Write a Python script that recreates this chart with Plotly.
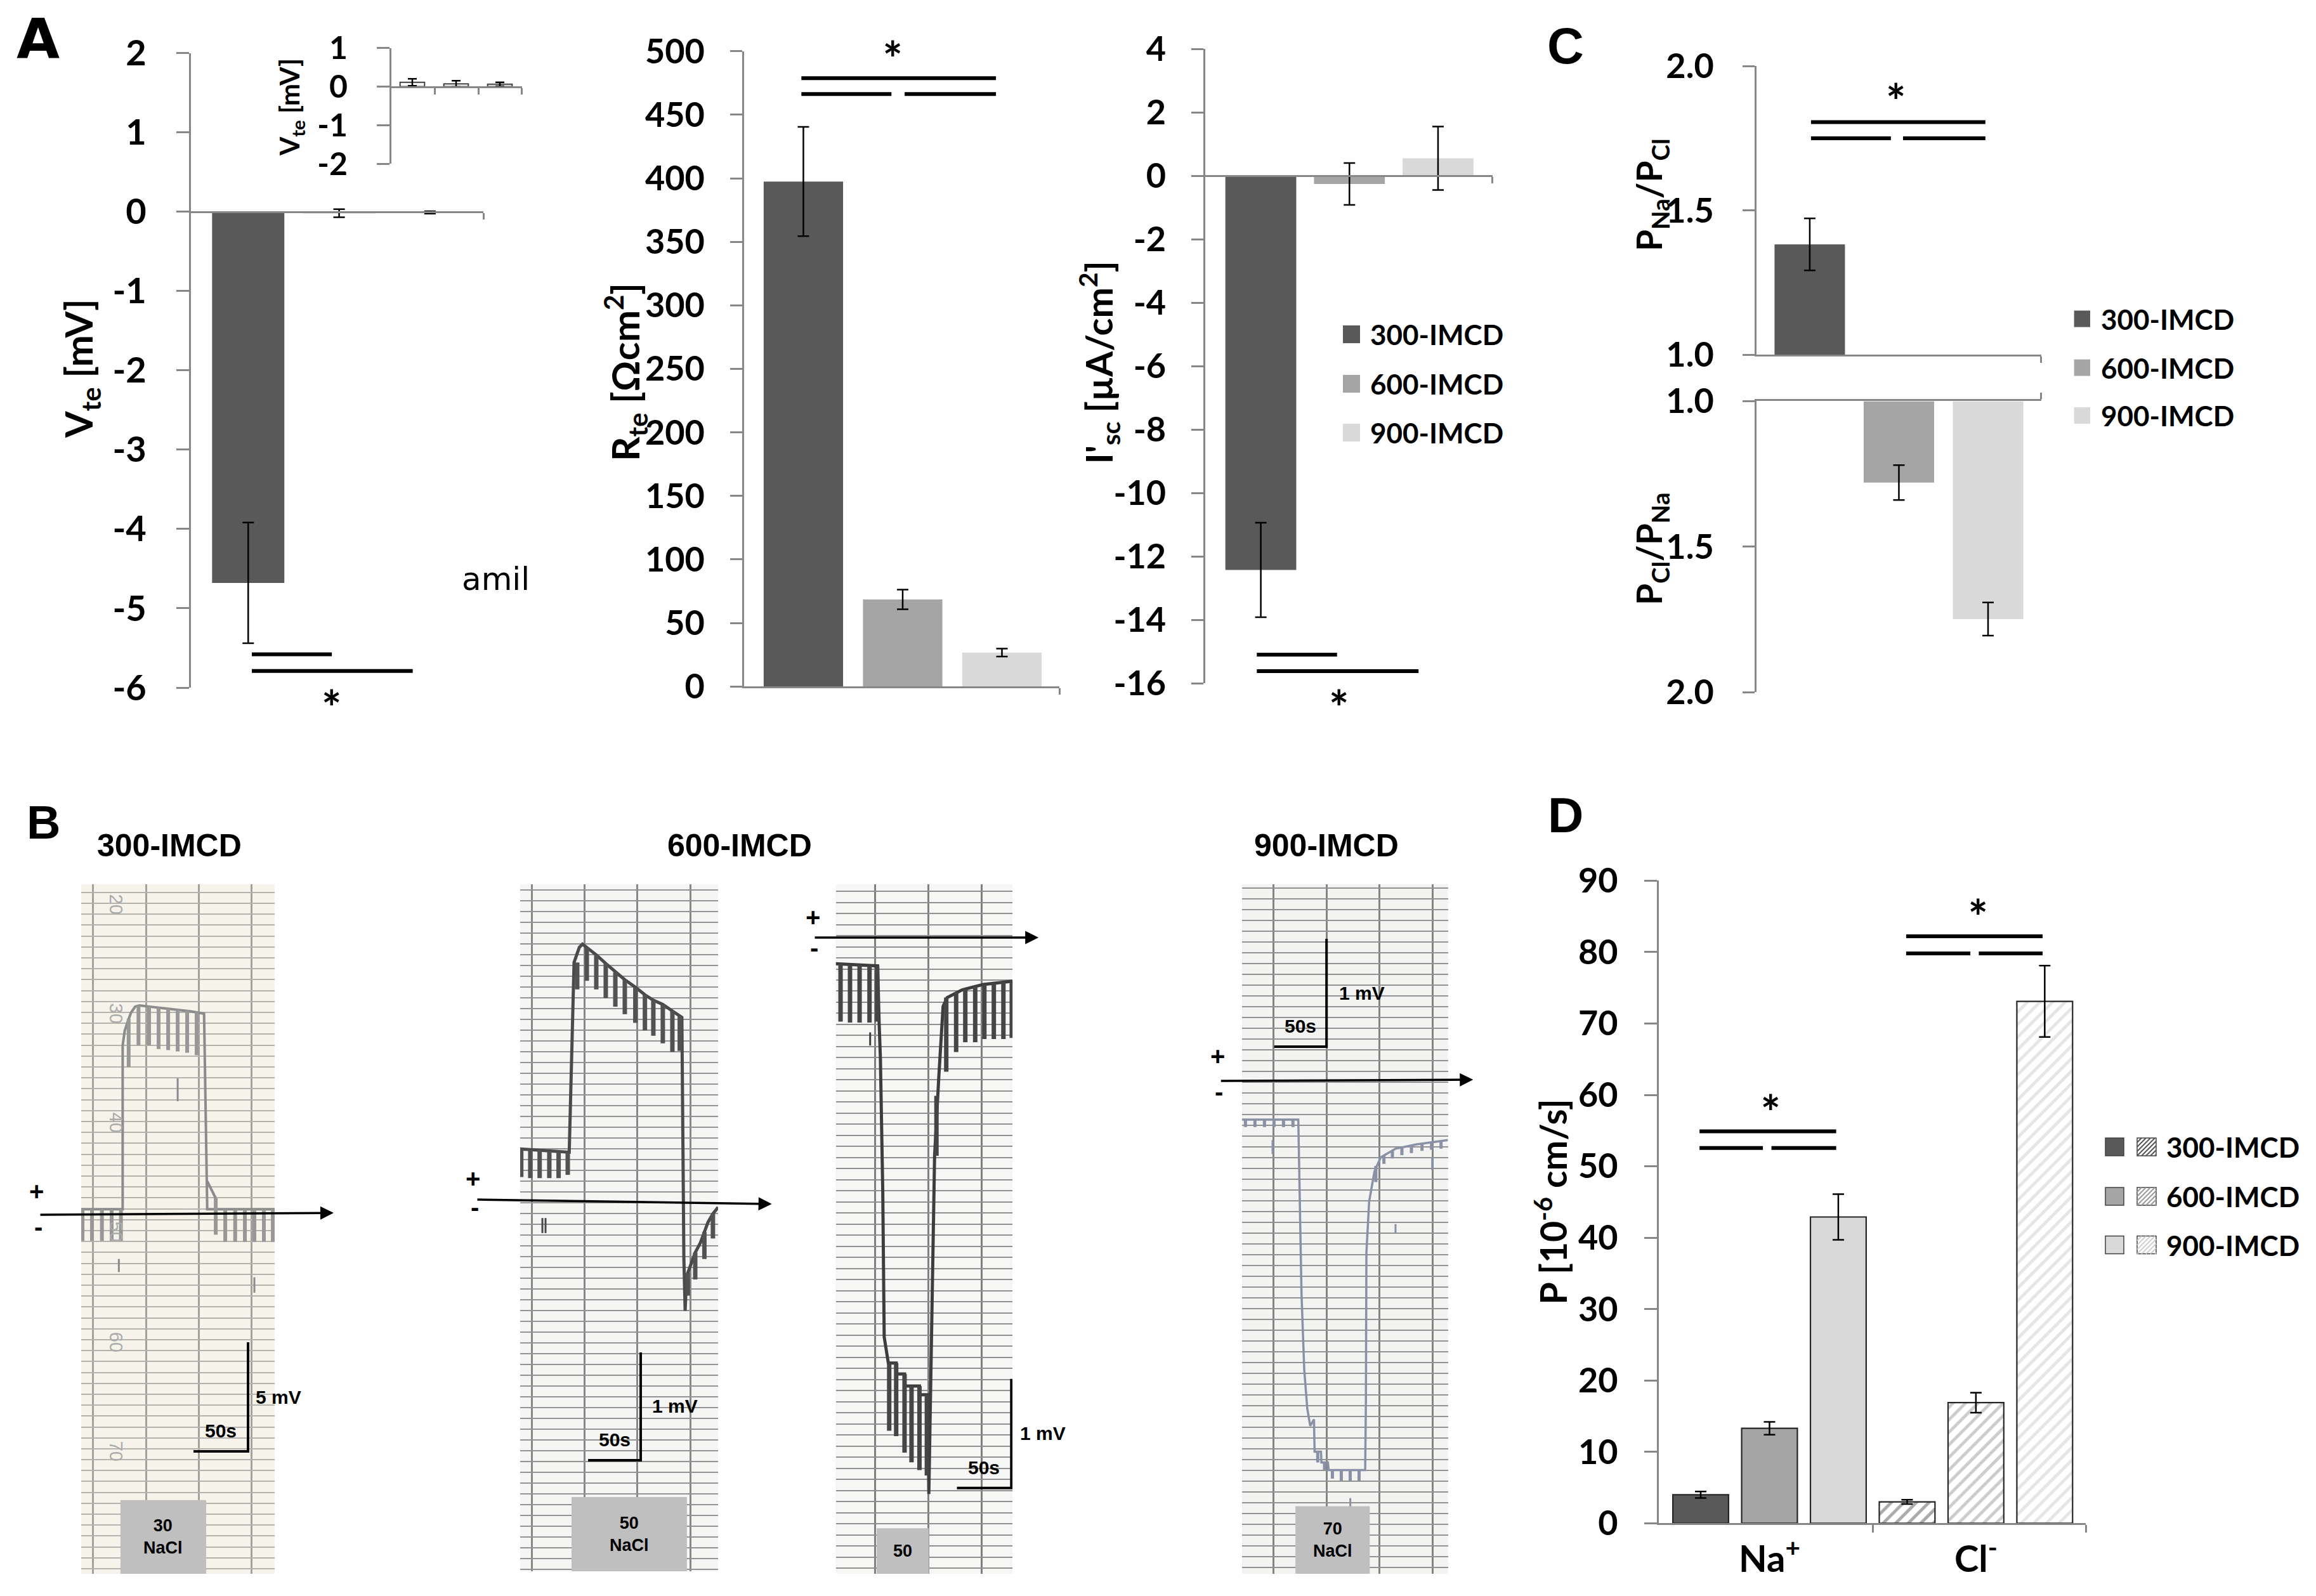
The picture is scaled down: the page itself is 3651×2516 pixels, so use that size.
import plotly.graph_objects as go

W, H = 3651, 2516
OX, OY = 8, 8   # page margin of the html body

cells = ["300-IMCD", "600-IMCD", "900-IMCD"]
cell_colors = ["#595959", "#a5a5a5", "#d9d9d9"]
pos = [0, 1, 2]

vte = [-4.68, -0.02, -0.01]
vte_err = [0.76, 0.05, 0.015]
vte_amil = [0.11, 0.07, 0.06]
vte_amil_err = [0.09, 0.08, 0.05]

rte = [397.4, 68.5, 26.7]
rte_err = [43.0, 7.7, 3.1]

isc = [-12.43, -0.26, 0.55]
isc_err = [1.49, 0.66, 1.0]

# PNa/PCl for 300-IMCD, PCl/PNa for 600 and 900
ratio = [1.382, 1.280, 1.749]
ratio_err = [0.09, 0.06, 0.057]
ratio_upper = [True, False, False]

ions = ["Na<sup>+</sup>", "Cl<sup>-</sup>"]
perm_300 = [4.0, 3.0]
perm_600 = [13.3, 16.9]
perm_900 = [42.9, 73.1]
perm_300_err = [0.45, 0.3]
perm_600_err = [0.9, 1.4]
perm_900_err = [3.2, 5.0]

# significance brackets [x from, x to, y] and star [x, y]
vte_sig = [[0.04, 0.92, -5.58], [0.04, 1.81, -5.79]]
rte_sig = [[-0.02, 1.94, 478.8], [-0.02, 0.887, 466.3], [1.02, 1.94, 466.3]]
rte_star = [0.9, 489.5]
isc_sig = [[-0.045, 0.86, -15.1], [-0.045, 1.78, -15.62]]
c_sig = [[0.014, 1.97, 1.806], [0.014, 0.91, 1.75], [1.046, 1.97, 1.75]]
c_star = [0.967, 1.858]
d_sig = [[-0.339, 0.323, 54.9], [-0.339, -0.032, 52.55], [0.0095, 0.323, 52.55],
         [0.662, 1.323, 82.2], [0.662, 0.973, 79.8], [1.014, 1.323, 79.8]]
d_star_x = [0.005, 1.01]
d_star_y = [56.8, 84.1]

# ---------------- panel B recorder traces (time s, voltage mV) ----------------
s300_t = [0, 38.0, 38.0, 39.9, 42.8, 45.7, 49.6, 53.5, 61.2, 80.6, 100.0, 112.6, 115.5, 115.5, 177.3, None, 115.5, 123.3]
s300_v = [0.17, 0.17, 7.68, 8.35, 8.79, 9.18, 9.46, 9.51, 9.46, 9.35, 9.24, 9.13, 1.45, 0.17, 0.17, None, 1.45, 0.67]
s300_pt = [1.2, 9.9, 19.0, 27.9, 36.4, 43.5, 52.5, 62.2, 70.9, 79.7, 88.4, 97.1, 105.8, 123.3,
           132.0, 141.1, 150.0, 158.7, 167.4, 175.6]
s300_ptop = [0.17, 0.17, 0.17, 0.17, 0.17, 8.9, 9.5, 9.46, 9.42, 9.37, 9.32, 9.27, 9.2, 0.67,
             0.17, 0.17, 0.17, 0.17, 0.17, 0.17]
s300_pbot = [-1.28, -1.28, -1.28, -1.28, -1.28, 6.68, 7.68, 7.68, 7.51, 7.46, 7.4, 7.34, 7.23, -1.0,
             -1.33, -1.33, -1.33, -1.33, -1.33, -1.33]
s300_mt = [88.4, 34.5, 158.7]
s300_m0 = [6.17, -2.11, -2.95]
s300_m1 = [5.12, -2.71, -3.66]

s600a_t = [0, 45.2, 46.6, 51.2, 56.2, 59.2, 63.3, 72.3, 81.3, 90.4, 99.4, 109.4, 118.5, 126.5, 135.5,
           144.6, 151.6, 153.6, 155.5, 156.7, 157.5, 159.2, 166.3, 171.2, 175.0, 178.4, 183.1, 188.0]
s600a_v = [0.51, 0.48, 0.48, 2.24, 2.38, 2.41, 2.38, 2.31, 2.23, 2.15, 2.08, 2.01, 1.94, 1.89, 1.85,
           1.79, 1.74, 1.73, -0.50, -0.99, -0.80, -0.64, -0.45, -0.36, -0.26, -0.17, -0.09, -0.03]
s600a_pt = [1.0, 9.6, 18.5, 27.7, 36.5, 45.2, 54.2, 63.3, 72.3, 81.3, 90.4, 99.4, 109.4, 118.5,
            126.5, 135.5, 144.6, 151.6, 159.2, 166.3, 175.0, 183.1]
s600a_ptop = [0.51, 0.50, 0.50, 0.49, 0.48, 0.48, 2.24, 2.38, 2.31, 2.23, 2.15, 2.08, 2.01, 1.94,
              1.89, 1.85, 1.79, 1.74, -0.64, -0.45, -0.26, -0.09]
s600a_pbot = [0.25, 0.24, 0.24, 0.24, 0.24, 0.27, 1.99, 2.07, 1.99, 1.91, 1.83, 1.76, 1.68, 1.61,
              1.56, 1.49, 1.41, 1.42, -0.85, -0.70, -0.51, -0.32]
s600a_mt = [21.1, 24.1]
s600a_m0 = [-0.13, -0.13]
s600a_m1 = [-0.27, -0.27]

s600b_t = [0, 38.5, 39.8, 41.0, 43.2, 44.5, 48.3, 55.5, 55.5, 63.2, 63.2, 76.9, 76.9, 84.5, 85.5,
           86.8, 90.8, 94.7, 98.6, 102.4, 116.0, 135.5, 162.4]
s600b_v = [-0.24, -0.26, -0.77, -1.10, -2.34, -3.66, -3.90, -3.90, -4.00, -4.00, -4.11, -4.11, -4.19,
           -4.19, -5.10, -4.30, -2.00, -1.27, -0.63, -0.55, -0.48, -0.43, -0.40]
s600b_pt = [4.4, 13.1, 21.9, 31.0, 38.0, 49.1, 55.5, 63.2, 69.6, 76.9, 83.7, 92.5, 101.5, 110.6,
            119.0, 128.1, 136.5, 145.2, 154.0, 161.7]
s600b_ptop = [-0.24, -0.25, -0.25, -0.26, -0.26, -3.90, -3.90, -4.00, -4.11, -4.11, -4.19, -1.45,
              -0.55, -0.50, -0.47, -0.45, -0.43, -0.42, -0.41, -0.40]
s600b_pbot = [-0.77, -0.78, -0.78, -0.78, -0.77, -4.52, -4.57, -4.72, -4.81, -4.88, -4.93, -2.00,
              -1.23, -1.05, -0.96, -0.96, -0.93, -0.93, -0.93, -0.92]
s600b_mt = [31.6]
s600b_m0 = [-0.87]
s600b_m1 = [-0.99]

s900_t = [0, 53.9, 55.5, 57.0, 59.6, 62.5, 65.3, 68.9, 69.5, 75.6, 76.0, 82.2, 83.0, 117.8, 118.5,
          119.0, 121.6, 126.7, 132.7, 146.8, 167.0, 196.9]
s900_v = [-0.37, -0.37, -1.20, -1.99, -2.69, -3.05, -3.21, -3.15, -3.45, -3.45, -3.55, -3.55, -3.62,
          -3.62, -3.00, -1.60, -1.13, -0.85, -0.72, -0.64, -0.60, -0.56]
s900_pt = [3.4, 12.5, 21.6, 30.7, 39.8, 48.8, 72.5, 79.0, 86.5, 95.0, 103.5, 112.0, 128.0, 135.7,
           143.8, 152.9, 162.0, 172.1, 181.2, 190.3]
s900_ptop = [-0.37, -0.37, -0.37, -0.37, -0.37, -0.37, -3.45, -3.55, -3.62, -3.62, -3.62, -3.62,
             -0.80, -0.70, -0.66, -0.63, -0.61, -0.59, -0.58, -0.57]
s900_pbot = [-0.44, -0.44, -0.44, -0.44, -0.44, -0.44, -3.55, -3.62, -3.70, -3.72, -3.72, -3.72,
             -0.95, -0.78, -0.73, -0.70, -0.68, -0.66, -0.65, -0.64]
s900_mt = [29.3, 181.8, 103.6, 146.8]
s900_m0 = [-0.56, -0.72, -3.88, -1.34]
s900_m1 = [-0.69, -0.84, -3.96, -1.42]

strip_titles = ["300-IMCD", "600-IMCD", "900-IMCD"]
sb_t = [152.9, 114.5, 161.3, 80.9]       # scale bar corner (s)
sb_v = [-10.93, -2.376, -5.045, 0.306]   # scale bar corner (mV)
sb_len_t = [50, 50, 50, 50]
sb_len_v = [5, 1, 1, 1]
sb_text_v = ["5 mV", "1 mV", "1 mV", "1 mV"]
sb_text_t = ["50s", "50s", "50s", "50s"]
nacl_on = [36.0, 48.8, 37.6, 51.2]
nacl_off = [114.5, 158.4, 85.5, 122.2]
nacl_text = ["30<br>NaCl", "50<br>NaCl", "50", "70<br>NaCl"]
paper_num = ["20", "30", "40", "50", "60", "70"]
paper_num_v = [14.13, 9.13, 4.13, -0.87, -5.93, -10.93]
paper_num_t = 32.2

strip_data = [
    (s300_t, s300_v, s300_pt, s300_ptop, s300_pbot, s300_mt, s300_m0, s300_m1),
    (s600a_t, s600a_v, s600a_pt, s600a_ptop, s600a_pbot, s600a_mt, s600a_m0, s600a_m1),
    (s600b_t, s600b_v, s600b_pt, s600b_ptop, s600b_pbot, s600b_mt, s600b_m0, s600b_m1),
    (s900_t, s900_v, s900_pt, s900_ptop, s900_pbot, s900_mt, s900_m0, s900_m1),
]

# ---------------- layout / style ----------------
AX = "#878787"
CAL = "Lato"
VER = "DejaVu Sans"
ARI = "Liberation Sans"

strip_style = [
    dict(px=(128, 433), py=(1394, 2481), tmax=177.3, vr=(-16.54, 15.06), hg=(0.19, 0.5), vg=(10.9, 48.4),
         paper="#f6f3ea", hcol="#b5b3ad", vcol="#a3a19c", line="#8b8b8b", lw=4, pcol="#979797", pw=6,
         box=0.107, arrow=(62, 526, 3), plus=(57, 1878), minus=(60, 1934), mvshift=10),
    dict(px=(820, 1132), py=(1394, 2477), tmax=188.0, vr=(-3.406, 2.965), hg=(0.01, 0.1), vg=(11.0, 50.2),
         paper="#f5f5f3", hcol="#939393", vcol="#888888", line="#4a4a4a", lw=5, pcol="#525252", pw=7,
         box=0.108, arrow=(751, 1216.7, -7), plus=(745, 1858), minus=(748, 1903), mvshift=16),
    dict(px=(1317.5, 1596.2), py=(1394, 2481), tmax=162.4, vr=(-5.831, 0.488), hg=(0.017, 0.1017), vg=(36.3, 48.9),
         paper="#f6f6f4", hcol="#8f8f8f", vcol="#808080", line="#3d3d3d", lw=5, pcol="#454545", pw=7,
         box=0.066, arrow=(1283, 1637.2, 0), plus=(1281, 1446), minus=(1283, 1494), mvshift=12),
    dict(px=(1957.7, 2282.6), py=(1394, 2481), tmax=196.9, vr=(-4.582, 1.812), hg=(-0.024, 0.1), vg=(30.1, 50.7),
         paper="#f3f3f1", hcol="#929292", vcol="#848484", line="#8a91a6", lw=3.5, pcol="#8a91a6", pw=5,
         box=0.098, arrow=(1923.3, 2322.3, 2), plus=(1919, 1665), minus=(1921, 1721), mvshift=18),
]
strip_title_pos = [(267, 1332.5), (1166, 1333), (2090.5, 1333)]


def fx(px):
    return (px - OX) / W


def fy(py):
    return 1 - (py - OY) / H


def dom_x(a, b):
    return [fx(a), fx(b)]


def dom_y(top, bottom):
    return [fy(bottom), fy(top)]


def zero_pos(dom, rng):
    return dom[0] + (0 - rng[0]) / (rng[1] - rng[0]) * (dom[1] - dom[0])


def value_axis(dom, rng, vals, text, font, size, standoff, anchor, ticklen=19):
    return dict(domain=dom, range=rng, anchor=anchor, tickmode="array", tickvals=vals, ticktext=text,
                ticks="outside", ticklen=ticklen, tickwidth=3, tickcolor=AX,
                showline=True, linecolor=AX, linewidth=3,
                tickfont=dict(family=font, size=size, color="black", weight="bold"),
                ticklabelstandoff=standoff, showgrid=False, zeroline=False, fixedrange=True,
                automargin=False)


def cat_axis(dom, rng, tickvals, anchor=None, position=None, side="bottom"):
    d = dict(domain=dom, range=rng, showline=True, linecolor=AX, linewidth=3, ticks="outside",
             ticklen=10, tickwidth=3, tickcolor=AX, tickmode="array", tickvals=tickvals,
             showticklabels=False, showgrid=False, zeroline=False, side=side, fixedrange=True,
             automargin=False)
    if position is not None:
        d.update(anchor="free", position=position)
    else:
        d["anchor"] = anchor
    return d


def err(arr, w=9):
    return dict(type="data", array=arr, visible=True, color="black", thickness=2.5, width=w)


def sig_trace(segs, xa, ya):
    xs, ys = [], []
    for x0, x1, y in segs:
        xs += [x0, x1, None]
        ys += [y, y, None]
    return go.Scatter(x=xs, y=ys, mode="lines", line=dict(color="black", width=6),
                      xaxis=xa, yaxis=ya, hoverinfo="skip", cliponaxis=False)


def star_trace(xs, ys, xa, ya, font, size=74):
    return go.Scatter(x=xs, y=ys, mode="text", text=["*"] * len(xs),
                      textfont=dict(family=font, size=size, color="black", weight="bold"),
                      xaxis=xa, yaxis=ya, hoverinfo="skip", cliponaxis=False)


def segments(t, v0, v1):
    xs, ys = [], []
    for a, b, c in zip(t, v0, v1):
        xs += [a, a, None]
        ys += [b, c, None]
    return xs, ys


def paper_text(text, px, py, family, size, bold=True, **kw):
    d = dict(xref="paper", yref="paper", x=fx(px), y=fy(py), text=text, showarrow=False,
             xanchor="center", yanchor="middle",
             font=dict(family=family, size=size, color="black", weight="bold" if bold else "normal"))
    d.update(kw)
    return d


fig = go.Figure()
lay = {}
shapes = []
ann = []

# ---------- A: Vte ----------
vx, vy, vyr = dom_x(301, 762), dom_y(83.5, 1084), [-6, 2]
lay["yaxis"] = value_axis(vy, vyr, list(range(-6, 3)), [str(v) for v in range(-6, 3)], CAL, 56, 36, "x", 20)
lay["xaxis"] = cat_axis(vx, [-0.63, 2.587], [2.587], position=zero_pos(vy, vyr))
fig.add_trace(go.Bar(x=pos, y=vte, width=0.795, marker=dict(color=cell_colors, line_width=0),
                     error_y=err(vte_err), xaxis="x", yaxis="y", hoverinfo="skip"))
fig.add_trace(sig_trace(vte_sig, "x", "y"))
ann.append(paper_text("*", 522, 1114, CAL, 74))

# inset (amiloride)
ix, iy, iyr = dom_x(617, 822.6), dom_y(75.6, 258.3), [-2, 1]
lay["yaxis2"] = value_axis(iy, iyr, [-2, -1, 0, 1], ["-2", "-1", "0", "1"], CAL, 50, 36, "x2", 20)
lay["xaxis2"] = cat_axis(ix, [-0.478, 2.501], [0.52, 1.51, 2.501], position=zero_pos(iy, iyr))
fig.add_trace(go.Bar(x=pos, y=vte_amil, width=0.56,
                     marker=dict(color="white", line=dict(color="#404040", width=2)),
                     error_y=err(vte_amil_err, 7), xaxis="x2", yaxis="y2", hoverinfo="skip"))

# ---------- A: Rte ----------
rx, ry = dom_x(1172.7, 1670.3), dom_y(80.7, 1082.2)
rvals = list(range(0, 501, 50))
lay["yaxis3"] = value_axis(ry, [0, 500], rvals, [str(v) for v in rvals], CAL, 54, 29, "x3", 19)
lay["xaxis3"] = cat_axis(rx, [-0.599, 2.58], [2.58], anchor="y3")
fig.add_trace(go.Bar(x=pos, y=rte, width=0.8, marker=dict(color=cell_colors, line_width=0),
                     error_y=err(rte_err), xaxis="x3", yaxis="y3", hoverinfo="skip"))
fig.add_trace(sig_trace(rte_sig, "x3", "y3"))
fig.add_trace(star_trace([rte_star[0]], [rte_star[1]], "x3", "y3", CAL))

# ---------- A: I'sc ----------
sx, sy, syr = dom_x(1900, 2352.6), dom_y(77, 1077), [-16, 4]
svals = list(range(-16, 5, 2))
lay["yaxis4"] = value_axis(sy, syr, svals, [str(v) for v in svals], CAL, 54, 29, "x4", 19)
lay["xaxis4"] = cat_axis(sx, [-0.627, 2.613], [2.613], position=zero_pos(sy, syr))
fig.add_trace(go.Bar(x=pos, y=isc, width=0.8, marker=dict(color=cell_colors, line_width=0),
                     error_y=err(isc_err), xaxis="x4", yaxis="y4", hoverinfo="skip"))
fig.add_trace(sig_trace(isc_sig, "x4", "y4"))
ann.append(paper_text("*", 2110.5, 1114, CAL, 74))

# ---------- C: permeability ratios (broken axis) ----------
cx = dom_x(2768.6, 3217.8)
cxr = [-0.6, 2.596]
cvals = [1.0, 1.5, 2.0]
ctext = [f"{v:.1f}" for v in cvals]
lay["yaxis5"] = value_axis(dom_y(104.2, 559), [1, 2], cvals, ctext, CAL, 54, 34, "x5", 19)
lay["xaxis5"] = cat_axis(cx, cxr, [cxr[1]], anchor="y5")
lay["yaxis6"] = value_axis(dom_y(632.4, 1091), [2, 1], cvals, ctext, CAL, 54, 34, "x6", 19)
lay["xaxis6"] = cat_axis(cx, cxr, [cxr[1]], anchor="y6", side="top")
for up, xa, ya in [(True, "x5", "y5"), (False, "x6", "y6")]:
    idx = [i for i in pos if ratio_upper[i] == up]
    fig.add_trace(go.Bar(x=idx, y=[ratio[i] - 1 for i in idx], base=1, width=0.79,
                         marker=dict(color=[cell_colors[i] for i in idx], line_width=0),
                         error_y=err([ratio_err[i] for i in idx]), xaxis=xa, yaxis=ya, hoverinfo="skip"))
fig.add_trace(sig_trace(c_sig, "x5", "y5"))
fig.add_trace(star_trace([c_star[0]], [c_star[1]], "x5", "y5", CAL))

# ---------- D: permeabilities ----------
dx, dy = dom_x(2615.4, 3288), dom_y(1388.3, 2401.4)
dvals = list(range(0, 91, 10))
lay["yaxis7"] = value_axis(dy, [0, 90], dvals, [str(v) for v in dvals], CAL, 54, 31, "x7", 20)
lay["xaxis7"] = dict(domain=dx, range=[-0.535, 1.532], anchor="y7", showline=True, linecolor=AX,
                     linewidth=3, tickmode="array", tickvals=[0, 1], ticktext=ions, ticks="",
                     tickfont=dict(family=CAL, size=58, color="black", weight="bold"),
                     ticklabelstandoff=4,
                     minor=dict(tickmode="array", tickvals=[0.5, 1.532], ticks="outside", ticklen=12,
                                tickwidth=3, tickcolor=AX),
                     showgrid=False, zeroline=False, fixedrange=True, automargin=False)
d_sets = [(perm_300, perm_300_err, cell_colors[0], "#555555"),
          (perm_600, perm_600_err, cell_colors[1], "#9a9a9a"),
          (perm_900, perm_900_err, cell_colors[2], "#cccccc")]
for k, (vals, errs, col, hatch) in enumerate(d_sets):
    # Na+ : solid bar
    fig.add_trace(go.Bar(x=[0], y=[vals[0]], offsetgroup=str(k), xaxis="x7", yaxis="y7",
                         hoverinfo="skip", marker=dict(color=col, line=dict(color="#262626", width=2.2)),
                         error_y=err([errs[0]])))
    # Cl- : hatched bar
    fig.add_trace(go.Bar(x=[1], y=[vals[1]], offsetgroup=str(k), xaxis="x7", yaxis="y7",
                         hoverinfo="skip",
                         marker=dict(color="white", line=dict(color="#262626", width=2.2),
                                     pattern=dict(shape="/", fgcolor=hatch, bgcolor="white",
                                                  size=14, solidity=0.35, fillmode="overlay")),
                         error_y=err([errs[1]])))
fig.add_trace(sig_trace(d_sig, "x7", "y7"))
fig.add_trace(star_trace(d_star_x, d_star_y, "x7", "y7", CAL))

# ---------- B: chart recorder strips ----------
for i, (st, dat) in enumerate(zip(strip_style, strip_data)):
    n = 8 + i
    xa, ya = f"x{n}", f"y{n}"
    lay[f"xaxis{n}"] = dict(domain=dom_x(*st["px"]), range=[0, st["tmax"]], anchor=ya, showgrid=True,
                            gridcolor=st["vcol"], gridwidth=2.5, tickmode="linear", tick0=st["vg"][0],
                            dtick=st["vg"][1], showticklabels=False, ticks="", showline=False,
                            zeroline=False, fixedrange=True, automargin=False)
    lay[f"yaxis{n}"] = dict(domain=dom_y(*st["py"]), range=list(st["vr"]), anchor=xa, showgrid=True,
                            gridcolor=st["hcol"], gridwidth=2, tickmode="linear", tick0=st["hg"][0],
                            dtick=st["hg"][1], showticklabels=False, ticks="", showline=False,
                            zeroline=False, fixedrange=True, automargin=False)
    shapes.append(dict(type="rect", xref=f"{xa} domain", yref=f"{ya} domain", x0=0, x1=1, y0=0, y1=1,
                       fillcolor=st["paper"], line_width=0, layer="below"))
    t, v, pt, ptop, pbot, mt, m0, m1 = dat
    fig.add_trace(go.Scatter(x=t, y=v, mode="lines", line=dict(color=st["line"], width=st["lw"]),
                             xaxis=xa, yaxis=ya, hoverinfo="skip"))
    px_, py_ = segments(pt, ptop, pbot)
    fig.add_trace(go.Scatter(x=px_, y=py_, mode="lines", line=dict(color=st["pcol"], width=st["pw"]),
                             xaxis=xa, yaxis=ya, hoverinfo="skip"))
    mx_, my_ = segments(mt, m0, m1)
    fig.add_trace(go.Scatter(x=mx_, y=my_, mode="lines", line=dict(color=st["line"], width=3),
                             xaxis=xa, yaxis=ya, hoverinfo="skip"))
    # scale bar
    fig.add_trace(go.Scatter(x=[sb_t[i] - sb_len_t[i], sb_t[i], sb_t[i]],
                             y=[sb_v[i], sb_v[i], sb_v[i] + sb_len_v[i]], mode="lines",
                             line=dict(color="black", width=4), xaxis=xa, yaxis=ya, hoverinfo="skip"))
    ann.append(dict(xref=xa, yref=ya, x=sb_t[i], y=sb_v[i] + sb_len_v[i] / 2, text=sb_text_v[i],
                    showarrow=False, xanchor="left", yanchor="middle", xshift=st["mvshift"],
                    font=dict(family=ARI, size=30, color="black", weight="bold")))
    ann.append(dict(xref=xa, yref=ya, x=sb_t[i] - sb_len_t[i] / 2, y=sb_v[i], text=sb_text_t[i],
                    showarrow=False, xanchor="center", yanchor="bottom", yshift=14,
                    font=dict(family=ARI, size=30, color="black", weight="bold")))
    # NaCl application box
    shapes.append(dict(type="rect", xref=xa, yref=f"{ya} domain", x0=nacl_on[i], x1=nacl_off[i],
                       y0=0, y1=st["box"], fillcolor="#bfbfbf", line_width=0, layer="above"))
    ann.append(dict(xref=xa, yref=f"{ya} domain", x=(nacl_on[i] + nacl_off[i]) / 2, y=st["box"] / 2,
                    text=nacl_text[i], showarrow=False, xanchor="center", yanchor="middle",
                    font=dict(family=ARI, size=27, color="black", weight="bold")))
    # zero-level arrow and polarity signs
    tail, head, ay = st["arrow"]
    ann.append(dict(xref="paper", yref=ya, x=fx(head), y=0, ax=-(head - tail), ay=ay, axref="pixel",
                    ayref="pixel", text="", showarrow=True, arrowhead=2, arrowsize=1.2,
                    arrowwidth=3.5, arrowcolor="black", standoff=0, startstandoff=0))
    for sign, (gx, gy) in [("+", st["plus"]), ("-", st["minus"])]:
        ann.append(paper_text(sign, gx, gy, ARI, 40))

for num, nv in zip(paper_num, paper_num_v):
    ann.append(dict(xref="x8", yref="y8", x=paper_num_t, y=nv, text=num, showarrow=False, textangle=90,
                    font=dict(family=ARI, size=29, color="#ababab")))

for title, (tx, ty) in zip(strip_titles, strip_title_pos):
    ann.append(paper_text(title, tx, ty, ARI, 50))

# ---------- axis titles, labels ----------
titles = [
    ("V<sub>te</sub> [mV]", 128, 581, 60),
    ("V<sub>te</sub> [mV]", 459, 169, 42),
    ("R<sub>te</sub> [\u03a9cm<sup>2</sup>]", 986, 587, 60),
    ("I'<sub>sc</sub> [\u00b5A/cm<sup>2</sup>]", 1732.5, 572, 58),
    ("P<sub>Na</sub>/P<sub>Cl</sub>", 2603, 308, 55),
    ("P<sub>Cl</sub>/P<sub>Na</sub>", 2603, 866, 55),
    ("P [10<sup>-6</sup> cm/s]", 2445, 1894.5, 57),
]
for text, tx, ty, size in titles:
    ann.append(paper_text(text, tx, ty, CAL, size, textangle=-90))

ann.append(paper_text("amil", 781, 913, VER, 50, bold=False))

for letter, lx, ly, fam, size in [("A", 60, 62, VER, 88), ("B", 68, 1296, ARI, 74),
                                  ("C", 2468, 72, ARI, 80), ("D", 2468, 1285, ARI, 78)]:
    ann.append(paper_text(letter, lx, ly, fam, size))


# ---------- legends ----------
def px_rect(x0, x1, yc, h, fill, line=None):
    return dict(type="rect", xref="paper", yref="paper", x0=fx(x0), x1=fx(x1),
                y0=fy(yc + h / 2), y1=fy(yc - h / 2), fillcolor=fill,
                line=dict(color=line or fill, width=1.5 if line else 0), layer="above")


def hatch_path(x0, x1, yc, h, step=7):
    y0, y1 = yc - h / 2, yc + h / 2
    parts = []
    c = x0 + y0 + step
    while c < x1 + y1:
        xa = max(x0, c - y1)
        xb = min(x1, c - y0)
        parts.append(f"M{fx(xa):.6f},{fy(c - xa):.6f}L{fx(xb):.6f},{fy(c - xb):.6f}")
        c += step
    return "".join(parts)


def legend_text(tx, yc, text):
    return paper_text(text, tx, yc, CAL, 44, xanchor="left")


for yc, col, name in zip([527, 605, 682], cell_colors, cells):
    shapes.append(px_rect(2117, 2144, yc, 28, col))
    ann.append(legend_text(2158, yc, name))
for yc, col, name in zip([502.6, 579.6, 655], cell_colors, cells):
    shapes.append(px_rect(3269.6, 3295, yc, 26, col))
    ann.append(legend_text(3309.5, yc, name))
for yc, (vals, errs, col, hatch), name in zip([1808, 1886, 1962.6], d_sets, cells):
    shapes.append(px_rect(3319, 3348, yc, 28, col, "#404040"))
    shapes.append(px_rect(3369, 3399, yc, 28, "white", "#404040"))
    shapes.append(dict(type="path", xref="paper", yref="paper", path=hatch_path(3369, 3399, yc, 28),
                       line=dict(color=hatch, width=2), layer="above"))
    ann.append(legend_text(3413, yc, name))

fig.update_layout(
    width=W, height=H, margin=dict(l=0, r=0, t=0, b=0, pad=0),
    paper_bgcolor="white", plot_bgcolor="white", showlegend=False,
    barmode="group", bargap=0, bargroupgap=0.19,
    shapes=shapes, annotations=ann, **lay,
)

fig.write_html("out.html")
